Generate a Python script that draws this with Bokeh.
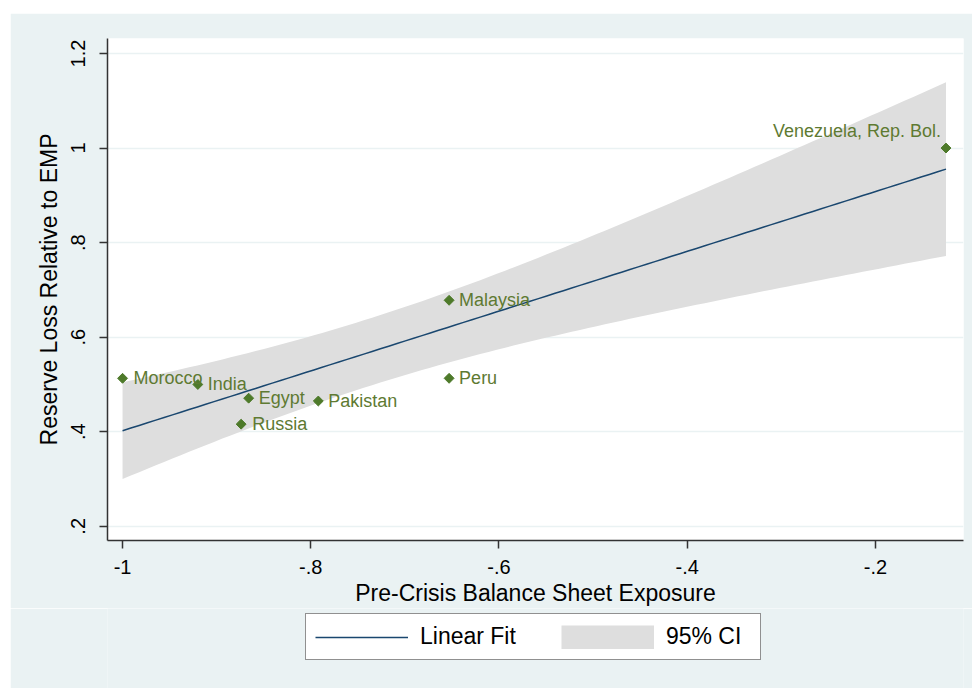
import numpy as np
from bokeh.plotting import figure
from bokeh.layouts import column
from bokeh.models import ColumnDataSource, Legend, LegendItem, FixedTicker, Range1d
from bokeh.embed import file_html
from bokeh.resources import INLINE

# ---- data ----
countries = ["Morocco", "India", "Egypt", "Russia", "Pakistan", "Malaysia", "Peru", "Venezuela, Rep. Bol."]
exposure = [-1.0, -0.920, -0.866, -0.874, -0.792, -0.653, -0.653, -0.125]
reserve_loss = [0.513, 0.500, 0.471, 0.416, 0.465, 0.678, 0.513, 1.0]
label_dx = [11, 10, 10, 11, 10, 10, 10, -5]
label_dy = [0, 0, 0, 0, 0, 0, 0, -17]
label_align = ["left", "left", "left", "left", "left", "left", "left", "right"]

x_ticks = [-1.0, -0.8, -0.6, -0.4, -0.2]
x_tick_labels = ["-1", "-.8", "-.6", "-.4", "-.2"]
y_ticks = [0.2, 0.4, 0.6, 0.8, 1.0, 1.2]
y_tick_labels = [".2", ".4", ".6", ".8", "1", "1.2"]
t_crit = 2.447  # t(0.975, df=6)

# ---- linear fit with 95% CI (lfitci) ----
xa = np.array(exposure)
ya = np.array(reserve_loss)
n = len(xa)
xm, ym = xa.mean(), ya.mean()
sxx = ((xa - xm) ** 2).sum()
b = ((xa - xm) * (ya - ym)).sum() / sxx
a = ym - b * xm
s = np.sqrt(((ya - (a + b * xa)) ** 2).sum() / (n - 2))
gx = np.linspace(xa.min(), xa.max(), 100)
gy = a + b * gx
hw = t_crit * s * np.sqrt(1.0 / n + (gx - xm) ** 2 / sxx)

BG = "#EAF2F3"
FONT = "Liberation Sans"
LINE_C = "#1A476F"
BAND_C = "#DEDEDE"

p = figure(width=962, height=595, output_backend="svg", toolbar_location=None,
           x_range=Range1d(-1.016, -0.1064), y_range=Range1d(0.170, 1.2317),
           min_border_left=97, min_border_right=9, min_border_top=25, min_border_bottom=68)
p.background_fill_color = "white"
p.border_fill_color = BG
p.outline_line_color = None

band = p.varea(x=gx, y1=gy - hw, y2=gy + hw, fill_color=BAND_C)
fit = p.line(gx, gy, line_color=LINE_C, line_width=1.5)

src = ColumnDataSource(dict(x=exposure, y=reserve_loss, name=countries,
                            dx=label_dx, dy=label_dy, align=label_align))
p.scatter("x", "y", source=src, marker="square", angle=np.pi / 4, size=7,
          fill_color="#4E7A2A", line_color="#4E7A2A")
p.text("x", "y", text="name", source=src, x_offset="dx", y_offset="dy", text_align="align",
       text_baseline="middle", text_color="#5E7A32", text_font_size="18px", text_font={"value": FONT})

# grid
p.xgrid.grid_line_color = None
p.ygrid.grid_line_color = BG
p.ygrid.grid_line_width = 1.5
p.ygrid.ticker = FixedTicker(ticks=y_ticks)

# axes
p.xaxis.ticker = FixedTicker(ticks=x_ticks)
p.yaxis.ticker = FixedTicker(ticks=y_ticks)
p.xaxis.major_label_overrides = {t: l for t, l in zip(x_ticks, x_tick_labels)}
p.yaxis.major_label_overrides = {t: l for t, l in zip(y_ticks, y_tick_labels)}
p.yaxis.major_label_orientation = "vertical"
for ax in (p.xaxis, p.yaxis):
    ax.axis_line_color = "#333333"
    ax.axis_line_width = 1.5
    ax.major_tick_line_color = "#333333"
    ax.major_tick_line_width = 1.5
    ax.major_tick_out = 8
    ax.major_tick_in = 0
    ax.minor_tick_line_color = None
    ax.major_label_text_font = FONT
    ax.major_label_text_font_size = "20px"
    ax.major_label_text_color = "#000000"
    ax.axis_label_text_font = FONT
    ax.axis_label_text_font_size = "23px"
    ax.axis_label_text_font_style = "normal"
    ax.axis_label_text_color = "#000000"
p.xaxis.axis_label = "Pre-Crisis Balance Sheet Exposure"
p.yaxis.axis_label = "Reserve Loss Relative to EMP"
p.xaxis.major_label_standoff = 11
p.yaxis.major_label_standoff = 14
p.xaxis.axis_label_standoff = 3
p.yaxis.axis_label_standoff = 7

# ---- legend strip below the plot (same data, kept outside this strip's view) ----
q = figure(width=962, height=80, output_backend="svg", toolbar_location=None,
           x_axis_type=None, y_axis_type=None, min_border=0,
           x_range=Range1d(10, 11), y_range=Range1d(10, 11))
q.background_fill_color = BG
q.border_fill_color = BG
q.outline_line_color = None
q.xgrid.visible = False
q.ygrid.visible = False
leg_line = q.line(gx, gy, line_color=LINE_C, line_width=1.5)
leg_band = q.line(gx, gy, line_color=BAND_C, line_width=24, line_cap="butt")

legend = Legend(items=[LegendItem(label="Linear Fit", renderers=[leg_line]),
                       LegendItem(label="95% CI", renderers=[leg_band])],
                orientation="horizontal", location=(198, 28))
legend.glyph_width = 93
legend.glyph_height = 24
legend.label_standoff = 12
legend.label_width = 85
legend.spacing = 45
legend.padding = 9
legend.margin = 0
legend.label_text_font = FONT
legend.label_text_font_size = "23px"
legend.label_text_color = "#000000"
legend.border_line_color = "#222222"
legend.border_line_width = 1.5
legend.background_fill_color = "white"
legend.background_fill_alpha = 1.0
q.add_layout(legend, "center")

page = column(p, q, spacing=0)
page.margin = (13, 0, 0, 10)

with open("out.html", "w") as f:
    f.write(file_html(page, INLINE))
